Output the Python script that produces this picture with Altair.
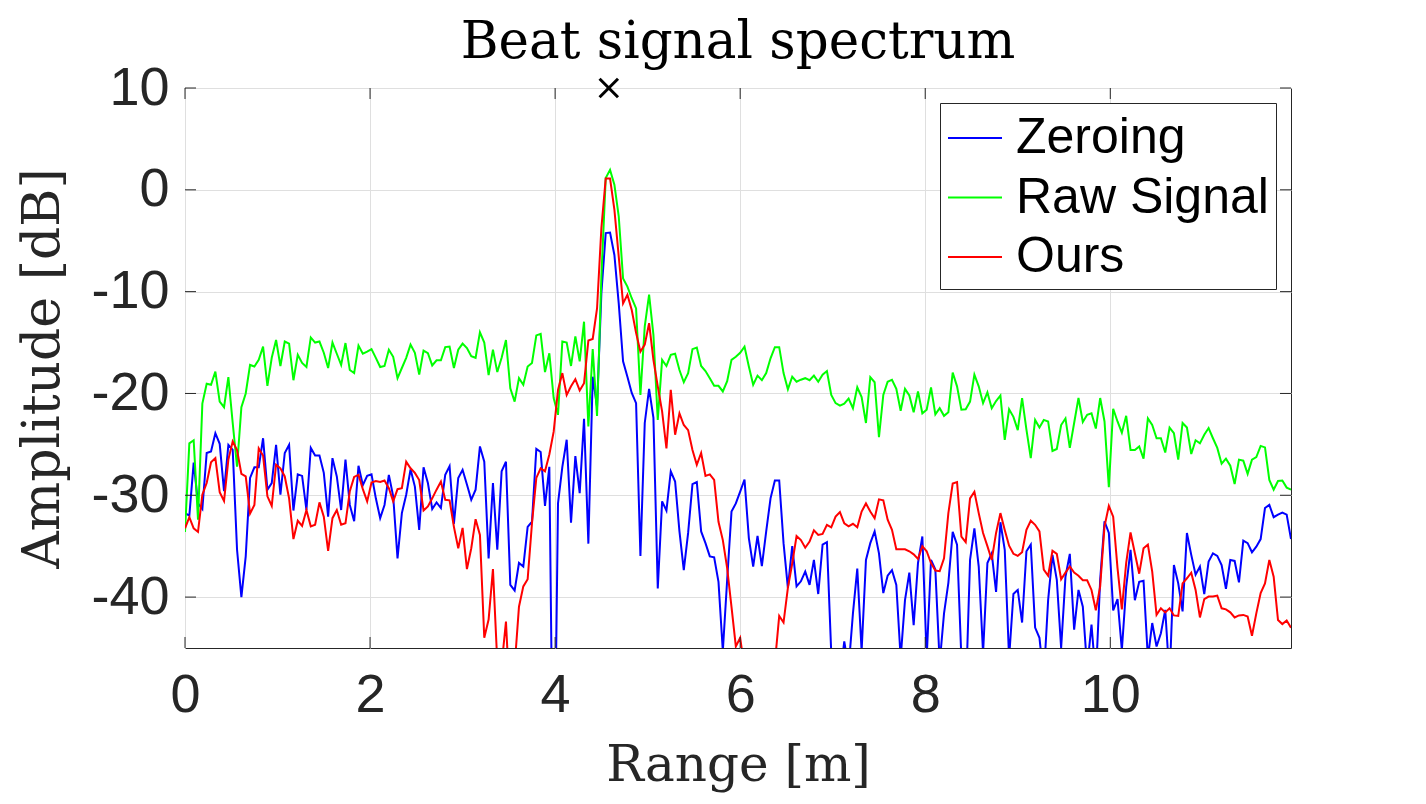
import altair as alt
import pandas as pd

# Spectrum samples, in dB (values under -45 are clipped by the axis)
zeroing = [
    -31.75, -32.0, -26.8, -30.8, -31.35, -25.85, -25.7, -23.9, -24.95, -29.6,
    -25.05, -25.55, -35.35, -40, -36, -28.3, -27.25, -27.25, -24.4, -29.45,
    -28.8, -25.05, -29.95, -25.85, -25.05, -31.5, -27.95, -28.1, -31.45, -25.35,
    -26.1, -26.1, -27.8, -32.1, -26.35, -28.15, -31.45, -26.5, -30.95, -32.55,
    -27.1, -29, -28.1, -27.95, -30.3, -32.25, -30.95, -28, -30.1, -36.2,
    -31.75, -29.95, -27.45, -29.15, -33.4, -27.25, -28.8, -31.35, -30.7, -31.25,
    -28, -27.15, -32.8, -28.3, -27.5, -28.95, -30.45, -29.45, -25.2, -26.7,
    -36.2, -28.8, -35.35, -27.65, -26.7, -38.8, -39.35, -36.65, -37, -33.1,
    -32.6, -25.45, -25.75, -31.05, -27.2, -65, -30.8, -27.2, -24.55, -32.7,
    -26.15, -29.8, -22.5, -34.75, -18.35, -21.3, -10.15, -4.25, -4.2, -6.4,
    -11.15, -16.85, -18.35, -19.95, -20.95, -35.95, -22.9, -19.55, -22.4, -39.15,
    -30.6, -31.5, -27.65, -28.65, -33.55, -37.35, -33.7, -28.9, -28.7, -33.55,
    -34.7, -36, -36.1, -38.5, -45.3, -38.3, -31.6, -30.8, -29.65, -28.45,
    -34.2, -37, -34, -36.95, -33.55, -30.3, -28.55, -28.55, -34.7, -39.1,
    -35, -38.95, -38.45, -37.5, -38.8, -36.35, -39.7, -34.85, -34.6, -45.5,
    -50, -48, -44.35, -47, -41.6, -37.2, -45.3, -36.35, -34.7, -33.55,
    -35.7, -39.6, -37.9, -37.35, -38.8, -46, -40.3, -37.6, -42.75, -36.65,
    -34.05, -46, -36.35, -37.3, -46.5, -41.6, -38.6, -33.6, -34.85, -46,
    -50, -36.35, -33.25, -37, -45.5, -36.65, -35.7, -39.5, -32.65, -35.35,
    -46, -39.7, -39.3, -42.5, -35.5, -34.85, -43, -44, -48, -40.3,
    -35.85, -38.3, -45, -38, -35.75, -43.2, -39.3, -40.95, -47, -42.7,
    -48, -38.3, -32.55, -33.7, -41.3, -40.2, -45.2, -39, -35.35, -40.3,
    -38.5, -38.4, -46, -42.55, -44.85, -43.55, -41.25, -48, -36.85, -38.65,
    -41.4, -33.7, -35.85, -37.8, -37, -39.7, -36.5, -35.7, -35.95, -36.85,
    -39.2, -36.35, -36.45, -38.55, -34.45, -34.7, -35.6, -35.05, -34.3, -31.25,
    -30.95, -32.15, -31.9, -31.7, -31.9, -34.3,
]
raw_signal = [
    -33.6, -24.9, -24.6, -32.4, -21, -19.05, -19.15, -17.85, -20.8, -21.35,
    -18.4, -22.9, -27.2, -21.35, -20, -17.2, -17.35, -16.7, -15.4, -19.25,
    -16.5, -14.75, -17.3, -14.9, -15.1, -18.7, -16.2, -17, -17.4, -14.5,
    -15, -14.9, -16, -17.5, -15, -16.1, -17.2, -15.05, -17.7, -18,
    -15.3, -16.1, -15.9, -15.65, -16.5, -17.4, -17.3, -15.7, -16.4, -18.5,
    -17.5, -16.5, -15.2, -16, -18.15, -15.8, -16.05, -17.25, -16.75, -16.75,
    -15.45, -15.4, -17.5, -15.7, -15.1, -15.55, -16.35, -16.5, -14, -15,
    -18.2, -15.7, -17.9, -16.5, -14.75, -19.5, -20.8, -18.5, -19.15, -17.35,
    -17, -14.3, -14.15, -17.9, -16.05, -20.45, -22.1, -14.9, -15, -17.3,
    -14.4, -16.85, -12.95, -23.25, -15.65, -22.2, -8.5, 1.15, 1.96, 0.5,
    -2.6, -8.7, -9.5, -10.65, -11.65, -20.15, -13.4, -10.3, -14.25, -22.6,
    -16.7, -17.3, -16.2, -16.1, -17.7, -18.9, -18, -15.65, -15.5, -17.3,
    -17.8, -18.5, -19.25, -19.25, -19.8, -18.8, -16.7, -16.4, -16, -15.4,
    -17.35, -19.15, -18.25, -18.7, -18, -16.55, -15.45, -15.45, -18, -19.6,
    -18.35, -18.85, -18.65, -18.5, -18.7, -18.25, -18.85, -18.15, -17.8, -20.15,
    -20.95, -21.2, -21, -20.5, -21.45, -19.4, -20.35, -22.9, -18.4, -18.9,
    -24.3, -20.15, -18.85, -18.65, -19.55, -21.7, -19.55, -20.2, -21.85, -19.8,
    -21.95, -21.6, -19.4, -22.05, -21.45, -22.2, -21.85, -17.95, -19.3, -21.6,
    -21.55, -20.8, -18.15, -19.3, -20.95, -19.9, -21.45, -20.75, -20.2, -24.55,
    -21.55, -22.3, -23.6, -20.45, -23.55, -26.35, -22.6, -23.35, -22.6, -22.75,
    -25.65, -25.45, -23.1, -22.45, -25.35, -22.9, -20.45, -22.8, -22.1, -21.95,
    -23.45, -20.45, -22.75, -29.2, -21.5, -22.75, -23.85, -22.2, -25.55, -25.55,
    -25.2, -26.4, -22.45, -23.1, -24.4, -24.4, -25.8, -23.35, -23.9, -26.5,
    -22.9, -23.35, -25.95, -24.6, -24.9, -24.05, -23.4, -24.4, -25.35, -26.9,
    -26.4, -27.1, -28.9, -26.5, -26.6, -27.9, -26.5, -26.25, -25.15, -25.3,
    -28.5, -29.45, -28.6, -28.55, -29.25, -29.45,
]
ours = [
    -33.25, -32.15, -33.25, -33.6, -29.95, -28.8, -26.75, -26.35, -29.7, -30.55,
    -26.5, -24.7, -25.55, -27.9, -28.15, -31.8, -30.95, -25.4, -26.1, -30.1,
    -31.05, -27, -27.35, -28.15, -30.3, -34.3, -32.5, -33, -31.45, -33.05,
    -32.9, -30.7, -32.1, -35.45, -32.25, -31.45, -32.9, -32.75, -29.6, -28.2,
    -28, -29.4, -30.6, -28.75, -28.6, -28.7, -28.55, -29.3, -30.6, -29.4,
    -29.3, -26.7, -27.35, -27.8, -28.5, -31.5, -31.1, -30.3, -29.45, -28.65,
    -30.45, -30.5, -33.1, -35.2, -33.2, -37.25, -35.2, -32.35, -33.9, -44,
    -42.2, -37.25, -46.4, -46.7, -42.4, -51, -46.8, -40.95, -38.95, -38.25,
    -32.75, -28.3, -27.35, -27.65, -26, -23.75, -19.65, -18, -20.15, -19.3,
    -18.6, -19.7, -19, -14.8, -14.65, -11.65, -3.75, 1.1, 1.1, -1.95,
    -6.55, -11.15, -10.3, -11.8, -14.05, -15.9, -15.2, -13.1, -16.7, -19.3,
    -21.75, -25.4, -19.65, -24.05, -21.95, -23.1, -23.6, -25.55, -27, -25.85,
    -28.1, -27.95, -28.5, -32.6, -34.4, -37.15, -40.95, -44.85, -44, -47,
    -52, -52, -52, -52, -50, -48, -46.5, -41.85, -42.5, -39.1,
    -36.7, -34, -34.4, -35.15, -34.55, -33.45, -33.9, -33.8, -32.9, -33.15,
    -32.1, -31.65, -32.75, -33.05, -32.8, -33.15, -31.6, -30.8, -31.6, -32.25,
    -30.4, -30.5, -32.4, -33.4, -35.3, -35.3, -35.3, -35.5, -35.8, -36.25,
    -35, -35.5, -36.65, -37.4, -37.45, -36.2, -31.75, -28.85, -28.7, -34.05,
    -34.6, -30.3, -29.65, -31.75, -33.7, -35, -36.35, -33.7, -31.75, -33.4,
    -34.95, -35.75, -35.95, -35.6, -33.4, -32.5, -32.9, -33.55, -37.3, -37.9,
    -35.45, -35.75, -38.25, -37.6, -37, -37.6, -37.9, -38.35, -38.35, -39.3,
    -41.3, -38.95, -33.05, -31.05, -32.1, -37.15, -41.2, -36.65, -33.65, -35.7,
    -37.7, -35.2, -34.85, -37.5, -41.75, -41.1, -41.5, -41.1, -41.8, -41.85,
    -38.65, -38.15, -37.6, -39.3, -42, -40.2, -39.95, -39.95, -39.85, -41.1,
    -41.2, -41.5, -42, -41.8, -41.75, -41.9, -43.8, -41.6, -39.6, -38.65,
    -36.35, -38, -42.25, -42.65, -42.3, -43,
]

bin_width = 0.046875  # range bin, 256 bins up to 12 m
x_ticks = [0, 2, 4, 6, 8, 10]
y_ticks = [10, 0, -10, -20, -30, -40]
series_names = ["Zeroing", "Raw Signal", "Ours"]
series_colors = ["#0000ff", "#00ff00", "#ff0000"]
target_range = [4.58]
target_level = [10]

W, H = 1106, 560
dark = "#262626"
sans = "Liberation Sans"
serif = "DejaVu Serif"

rows = []
for name, values in zip(series_names, [zeroing, raw_signal, ours]):
    for i, v in enumerate(values):
        rows.append({"range": i * bin_width, "amp": v, "series": name})
data = pd.DataFrame(rows)

x_scale = alt.Scale(domain=[0, 11.953], nice=False)
y_scale = alt.Scale(domain=[-45, 10], nice=False)

# every layer carries the same axis, a null axis in one layer drops it for all
x_axis = alt.Axis(
    title="Range [m]", values=x_ticks, grid=True, gridColor="#dfdfdf", domain=False,
    ticks=False, labelFont=sans, labelFontSize=54, labelColor=dark, labelPadding=20,
    labelFlush=False, labelOverlap=False, titleFont=serif, titleFontSize=50,
    titleFontWeight="normal", titleColor=dark, titlePadding=18)
y_axis = alt.Axis(
    title="Amplitude [dB]", values=y_ticks, grid=True, gridColor="#dfdfdf", domain=False,
    ticks=False, labelFont=sans, labelFontSize=54, labelColor=dark, labelPadding=16,
    labelFlush=False, labelOverlap=False, labelExpr="'' + datum.value", titleFont=serif,
    titleFontSize=52, titleFontWeight="normal", titleColor=dark, titlePadding=21)

lines = alt.Chart(data).mark_line(strokeWidth=2, clip=True).encode(
    x=alt.X("range:Q", scale=x_scale, axis=x_axis),
    y=alt.Y("amp:Q", scale=y_scale, axis=y_axis),
    color=alt.Color("series:N", scale=alt.Scale(domain=series_names, range=series_colors),
                    legend=alt.Legend(
                        title=None, orient="none", legendX=755, legendY=15,
                        symbolType="stroke", symbolSize=2916, symbolStrokeWidth=2,
                        labelFont=sans, labelFontSize=50, labelColor="black",
                        labelOffset=13, rowPadding=6.5, padding=7,
                        fillColor="white", strokeColor=dark, labelLimit=400)),
    detail="series:N",
    order=alt.Order("range:Q"),
)

# MATLAB style ticks point into the box, on all four sides
x_tick_data = pd.DataFrame({"v": x_ticks})
y_tick_data = pd.DataFrame({"v": y_ticks})
tick = dict(color=dark, strokeWidth=1)
x_enc = alt.X("v:Q", scale=x_scale, axis=x_axis)
y_enc = alt.Y("v:Q", scale=y_scale, axis=y_axis)
ticks_bottom = alt.Chart(x_tick_data).mark_rule(**tick).encode(x=x_enc, y=alt.value(H), y2=alt.value(H - 11))
ticks_top = alt.Chart(x_tick_data).mark_rule(**tick).encode(x=x_enc, y=alt.value(0), y2=alt.value(11))
ticks_left = alt.Chart(y_tick_data).mark_rule(**tick).encode(y=y_enc, x=alt.value(0), x2=alt.value(11))
ticks_right = alt.Chart(y_tick_data).mark_rule(**tick).encode(y=y_enc, x=alt.value(W), x2=alt.value(W - 11))

# the x marker sitting on the top edge
marker = alt.Chart(pd.DataFrame({"r": target_range, "a": target_level})).mark_point(
    shape="M-1,-1L1,1M-1,1L1,-1", size=340, color="black", strokeWidth=3, filled=False,
    clip=False, opacity=1
).encode(
    x=alt.X("r:Q", scale=x_scale, axis=x_axis),
    y=alt.Y("a:Q", scale=y_scale, axis=y_axis),
)

chart = alt.layer(
    lines, ticks_bottom, ticks_top, ticks_left, ticks_right, marker
).properties(
    width=W,
    height=H,
    autosize="none",
    background="white",
    padding={"left": 177, "top": 80, "right": 10, "bottom": 148},
    title=alt.TitleParams("Beat signal spectrum", font=serif, fontSize=51.5, fontWeight="normal",
                          color="black", anchor="middle", offset=-7),
).configure_view(stroke=dark, strokeWidth=1)

chart.save("out.html", embed_options={"renderer": "svg", "actions": False})
